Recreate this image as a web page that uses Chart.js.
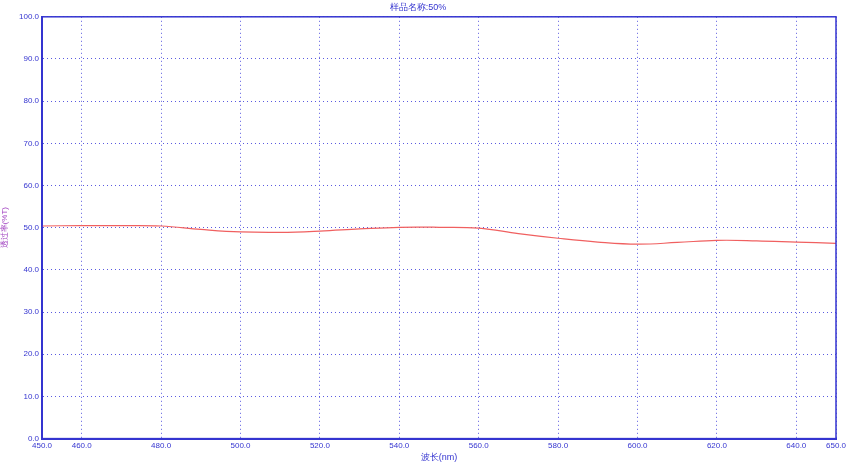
<!DOCTYPE html>
<html><head><meta charset="utf-8">
<script src="https://cdn.jsdelivr.net/npm/chart.js@4"></script>
<style>html,body{margin:0;background:#fff}#c{width:850px;height:463px}</style>
</head><body><div id="c"><canvas id="chart"></canvas></div>
<script>
const wavelength = [450, 460, 470, 480, 490, 500, 510, 520, 530, 540, 550, 560, 570, 580, 590, 600, 610, 620, 630, 640, 650];
const transmittance = [50.4, 50.5, 50.5, 50.4, 49.6, 49.0, 48.9, 49.2, 49.7, 50.1, 50.1, 49.9, 48.6, 47.5, 46.6, 46.1, 46.5, 47.0, 46.9, 46.6, 46.3];
const xTicks = [450, 460, 480, 500, 520, 540, 560, 580, 600, 620, 640, 650];

const blue = '#3535d0';
// solid frame around the plot area
const frame = {
  id: 'frame',
  afterDraw(chart) {
    const { ctx, chartArea: a } = chart;
    ctx.save();
    ctx.strokeStyle = blue;
    ctx.lineWidth = 1.5;
    ctx.strokeRect(a.left, a.top, a.right - a.left, a.bottom - a.top);
    ctx.restore();
  }
};

new Chart(document.getElementById('chart'), {
  type: 'line',
  data: {
    datasets: [{
      data: wavelength.map((x, i) => ({ x, y: transmittance[i] })),
      borderColor: '#f06060', borderWidth: 1.2, pointRadius: 0, tension: 0.4
    }]
  },
  options: {
    responsive: true, maintainAspectRatio: false, animation: false,
    layout: { padding: { left: 0, right: 14, top: 0, bottom: 0 } },
    plugins: {
      legend: { display: false },
      title: { display: true, text: '样品名称:50%', color: blue, font: { size: 9, weight: 'normal' }, padding: { top: 2, bottom: 4 } }
    },
    scales: {
      x: {
        type: 'linear', min: 450, max: 650,
        afterBuildTicks: s => { s.ticks = xTicks.map(v => ({ value: v })); },
        ticks: { color: blue, font: { size: 8 }, maxRotation: 0, autoSkip: false, padding: 2, callback: v => v.toFixed(1) },
        grid: { color: '#5a5ae0', drawTicks: false },
        border: { color: blue, width: 2, dash: [1, 3] },
        title: { display: true, text: '波长(nm)', color: blue, font: { size: 9 }, padding: 0 }
      },
      y: {
        min: 0, max: 100,
        afterFit: s => { s.width = 42; },
        ticks: { stepSize: 10, color: blue, font: { size: 8 }, padding: 3, callback: v => v.toFixed(1) },
        grid: { color: '#5a5ae0', drawTicks: false },
        border: { color: blue, width: 2, dash: [1, 3] },
        title: { display: true, text: '透过率(%T)', color: '#a040c0', font: { size: 8 }, padding: 0 }
      }
    }
  },
  plugins: [frame]
});
</script></body></html>
